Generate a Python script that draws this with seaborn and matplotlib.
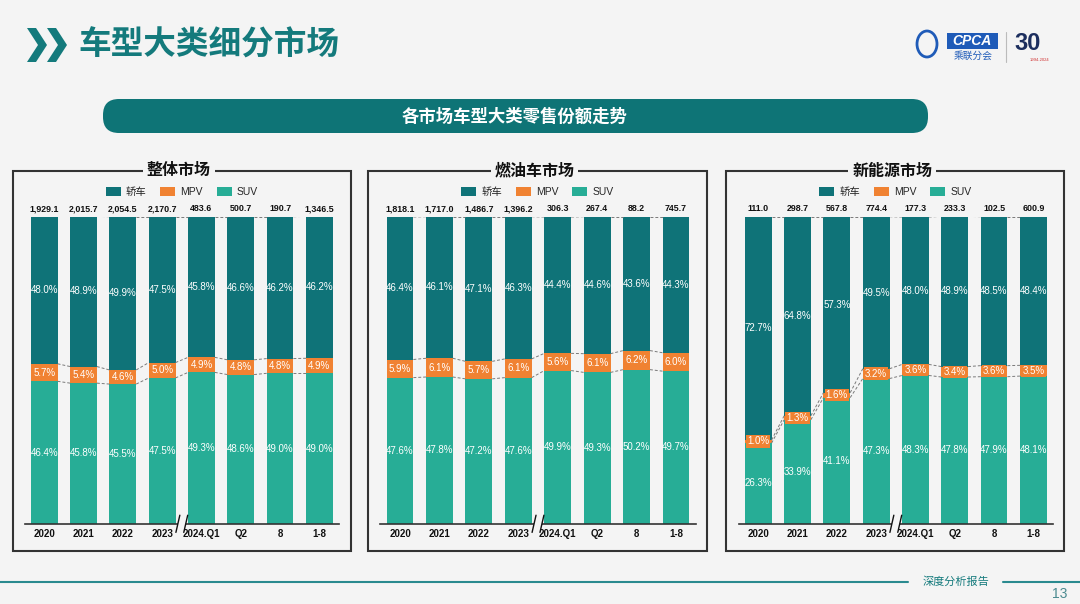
import numpy as np
import pandas as pd
import matplotlib
matplotlib.use("Agg")
import matplotlib.pyplot as plt
from matplotlib.patches import Rectangle, FancyBboxPatch, Polygon, Patch, Ellipse
import seaborn as sns

# ---- data ----
periods = ["2020", "2021", "2022", "2023", "2024.Q1", "Q2", "8", "1-8"]
legend_labels = ["轿车", "MPV", "SUV"]

titles = ["整体市场", "燃油车市场", "新能源市场"]

total_all = [1929.1, 2015.7, 2054.5, 2170.7, 483.6, 500.7, 190.7, 1346.5]
sedan_all = [48.0, 48.9, 49.9, 47.5, 45.8, 46.6, 46.2, 46.2]
mpv_all = [5.7, 5.4, 4.6, 5.0, 4.9, 4.8, 4.8, 4.9]
suv_all = [46.4, 45.8, 45.5, 47.5, 49.3, 48.6, 49.0, 49.0]

total_ice = [1818.1, 1717.0, 1486.7, 1396.2, 306.3, 267.4, 88.2, 745.7]
sedan_ice = [46.4, 46.1, 47.1, 46.3, 44.4, 44.6, 43.6, 44.3]
mpv_ice = [5.9, 6.1, 5.7, 6.1, 5.6, 6.1, 6.2, 6.0]
suv_ice = [47.6, 47.8, 47.2, 47.6, 49.9, 49.3, 50.2, 49.7]

total_nev = [111.0, 298.7, 567.8, 774.4, 177.3, 233.3, 102.5, 600.9]
sedan_nev = [72.7, 64.8, 57.3, 49.5, 48.0, 48.9, 48.5, 48.4]
mpv_nev = [1.0, 1.3, 1.6, 3.2, 3.6, 3.4, 3.6, 3.5]
suv_nev = [26.3, 33.9, 41.1, 47.3, 48.3, 47.8, 47.9, 48.1]

panels = [
    (titles[0], total_all, sedan_all, mpv_all, suv_all),
    (titles[1], total_ice, sedan_ice, mpv_ice, suv_ice),
    (titles[2], total_nev, sedan_nev, mpv_nev, suv_nev),
]

# ---- style ----
sns.set_style("white")
plt.rcParams["font.family"] = ["Liberation Sans", "Noto Sans CJK SC", "DejaVu Sans"]

C_SEDAN = "#0F7378"
C_MPV = "#F08232"
C_SUV = "#27AD96"
TEAL = "#147A7C"
BG = "#F4F4F4"

W, H = 1080, 604
fig = plt.figure(figsize=(10.8, 6.04), dpi=100, facecolor=BG)

# overlay axes in pixel coordinates for decorations
bg = fig.add_axes([0, 0, 1, 1])
bg.set_xlim(0, W)
bg.set_ylim(H, 0)
bg.axis("off")

# header chevrons + title
for dx in (0, 20):
    bg.add_patch(Polygon([(27 + dx, 28), (36 + dx, 28), (47 + dx, 45), (36 + dx, 62),
                          (27 + dx, 62), (38 + dx, 45)], closed=True, fc=TEAL, ec="none"))
bg.text(78, 46, "车型大类细分市场", fontsize=23.5, fontweight="bold", color=TEAL,
        ha="left", va="center")

# logo (simplified)
bg.add_patch(Ellipse((927, 44), 20, 26, fc="none", ec="#1F5BB8", lw=2))
bg.add_patch(Rectangle((947, 33), 51, 16, fc="#1F5BB8", ec="none"))
bg.text(972, 41, "CPCA", color="white", fontsize=10, fontstyle="italic",
        fontweight="bold", ha="center", va="center")
bg.text(973, 56, "乘联分会", color="#1F5BB8", fontsize=7, ha="center", va="center")
bg.plot([1006, 1006], [32, 62], color="#BBBBBB", lw=0.8)
bg.text(1028, 43, "30", color="#1C2E5E", fontsize=17, fontweight="bold",
        ha="center", va="center")
bg.text(1040, 60, "1994-2024", color="#D03030", fontsize=3, ha="center", va="center")

# banner
bg.add_patch(FancyBboxPatch((103, 99), 825, 34, boxstyle="round,pad=0,rounding_size=16",
                            fc="#0E7476", ec="none"))
bg.text(515, 116, "各市场车型大类零售份额走势", color="white", fontsize=12.5,
        fontweight="bold", ha="center", va="center")

# footer
bg.plot([0, 908], [582, 582], color="#2A8A8F", lw=1.5)
bg.plot([1003, 1080], [582, 582], color="#2A8A8F", lw=1.5)
bg.text(956, 582, "深度分析报告", color=TEAL, fontsize=8, ha="center", va="center")
bg.text(1060, 594, "13", color="#4A8A8F", fontsize=10, ha="center", va="center")

# panel geometry (pixels)
boxes = [(12.7, 351), (368.3, 706.7), (726, 1064.3)]
axes_x = [(24.6, 339.0), (380.3, 695.7), (738.6, 1053.0)]
BAR_TOP, BASE = 216.7, 523.8
bw = 0.68

for (title, total, sedan, mpv, suv), (bl, br), (al, ar) in zip(panels, boxes, axes_x):
    # frame and title
    bg.add_patch(Rectangle((bl, 171), br - bl, 551 - 171, fc="none", ec="#333333", lw=1.5))
    bg.text((bl + br) / 2 - 3, 171, title, fontsize=11.5, fontweight="bold", color="#111111",
            ha="center", va="center",
            bbox=dict(boxstyle="square,pad=0.25", fc=BG, ec="none"))

    ax = fig.add_axes([al / W, 1 - BASE / H, (ar - al) / W, (BASE - BAR_TOP) / H])
    ax.set_facecolor("none")

    df = pd.DataFrame({"period": periods, "sedan": sedan, "mpv": mpv, "suv": suv})
    df["low"] = df["suv"]
    df["mid"] = df["suv"] + df["mpv"]
    df["top"] = df["mid"] + df["sedan"]

    sns.barplot(data=df, x="period", y="top", color=C_SEDAN, saturation=1,
                width=bw, linewidth=0, ax=ax)
    sns.barplot(data=df, x="period", y="mid", color=C_MPV, saturation=1,
                width=bw, linewidth=0, ax=ax)
    sns.barplot(data=df, x="period", y="low", color=C_SUV, saturation=1,
                width=bw, linewidth=0, ax=ax)

    ax.set_xlim(-0.5, len(periods) - 0.5)
    ax.set_ylim(0, 100)
    ax.set_xlabel("")
    ax.set_ylabel("")
    ax.set_yticks([])
    for s in ("left", "right", "top"):
        ax.spines[s].set_visible(False)
    ax.spines["bottom"].set_color("#333333")
    ax.spines["bottom"].set_linewidth(1.2)
    ax.tick_params(axis="x", length=0, pad=4)
    for lab in ax.get_xticklabels():
        lab.set_fontsize(7)
        lab.set_fontweight("bold")
        lab.set_color("#111111")

    # dashed connectors
    for i in range(len(periods) - 1):
        for col in ("low", "mid", "top"):
            ax.plot([i + bw / 2, i + 1 - bw / 2], [df[col][i], df[col][i + 1]],
                    color="#7A7A7A", lw=0.7, ls=(0, (3, 2)), zorder=3)

    # labels
    for i, r in df.iterrows():
        ax.text(i, 102.6, f"{total[i]:,.1f}", fontsize=6.4, fontweight="bold",
                color="#111111", ha="center", va="center", clip_on=False)
        ax.text(i, r["mid"] + r["sedan"] / 2, f"{r['sedan']:.1f}%", fontsize=7,
                color="white", ha="center", va="center", zorder=4)
        ax.text(i, r["low"] / 2, f"{r['suv']:.1f}%", fontsize=7,
                color="white", ha="center", va="center", zorder=4)
        ax.text(i, r["low"] + r["mpv"] / 2, f"{r['mpv']:.1f}%", fontsize=7,
                color="white", ha="center", va="center", zorder=4,
                bbox=dict(boxstyle="square,pad=0.12", fc=C_MPV, ec="none"))

    # axis break mark between 2023 and 2024.Q1
    ax.add_patch(Polygon([(3.35, -2.8), (3.55, -2.8), (3.65, 2.8), (3.45, 2.8)],
                         closed=True, fc=BG, ec="none", clip_on=False, zorder=5))
    for xm in (3.4, 3.6):
        ax.plot([xm - 0.05, xm + 0.05], [-2.8, 2.8], color="#111111", lw=1,
                clip_on=False, zorder=6)

    # legend
    handles = [Patch(fc=c, ec="none") for c in (C_SEDAN, C_MPV, C_SUV)]
    ax.legend(handles, legend_labels, loc="center",
              bbox_to_anchor=(((bl + br) / 2) / W, 1 - 192 / H),
              bbox_transform=fig.transFigure, ncol=3, frameon=False, fontsize=7.5,
              handlelength=1.45, handleheight=0.85, handletextpad=0.5,
              columnspacing=1.3)

fig.savefig("out.png", dpi=100, facecolor=BG)
